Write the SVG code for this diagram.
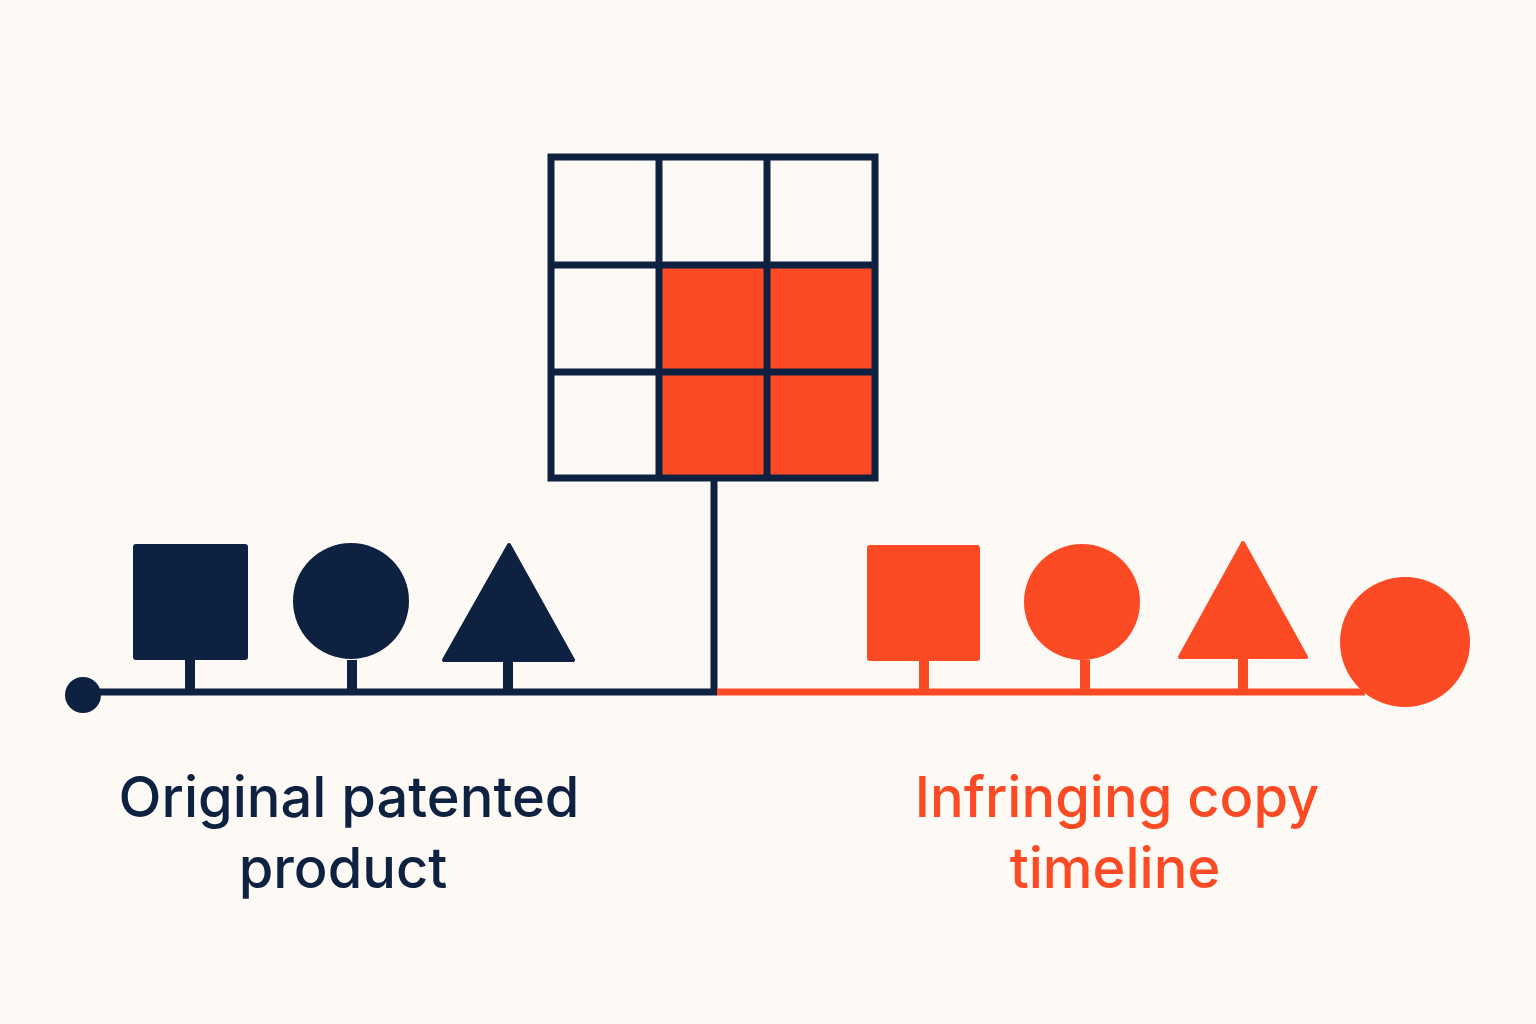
<svg xmlns="http://www.w3.org/2000/svg" width="1536" height="1024" viewBox="0 0 1536 1024">
<style>
.n{fill:#0f2140}.o{fill:#fc4a24}
.ln{stroke:#0f2140;stroke-width:7;fill:none}
.lo{stroke:#fc4a24;stroke-width:7;fill:none}
text{font-family:Inter,"Liberation Sans",sans-serif;font-size:56px;text-anchor:middle;font-weight:500}
</style>
<rect width="1536" height="1024" fill="#fdfaf5"/>
<g id="grid">
<rect x="659" y="265" width="216" height="213" class="o"/>
<path class="ln" d="M551 157H875V478H551Z M659 157V478 M767 157V478 M551 265H875 M551 372H875"/>
</g>
<g id="connectors">
<path class="ln" d="M714 478V692 M83 692H717"/>
<path class="lo" d="M717 692H1365"/>
<path class="ln" style="stroke-width:10" d="M190 660V690 M352 660V690 M508 660V690"/>
<path class="lo" style="stroke-width:10" d="M924 660V690 M1085 660V690 M1243 657V690"/>
</g>
<g id="start"><circle cx="83" cy="695" r="18" class="n"/></g>
<g id="orig-square"><rect x="133" y="544" width="115" height="116" rx="3" class="n"/></g>
<g id="orig-circle"><circle cx="351" cy="601" r="58" class="n"/></g>
<g id="orig-triangle"><path d="M509 545L573 660H444Z" class="n" stroke="#0f2140" stroke-width="4" stroke-linejoin="round"/></g>
<g id="copy-square"><rect x="867" y="545" width="113" height="116" rx="3" class="o"/></g>
<g id="copy-circle"><circle cx="1082" cy="602" r="58" class="o"/></g>
<g id="copy-triangle"><path d="M1243 543L1306 657H1180Z" class="o" stroke="#fc4a24" stroke-width="4" stroke-linejoin="round"/></g>
<g id="copy-end"><circle cx="1405" cy="642" r="65" class="o"/></g>
<g id="label-left"><text x="349" y="817" class="n">Original patented</text><text x="343" y="888" class="n">product</text></g>
<g id="label-right"><text x="1117" y="817" class="o">Infringing copy</text><text x="1115" y="888" class="o">timeline</text></g>
</svg>
